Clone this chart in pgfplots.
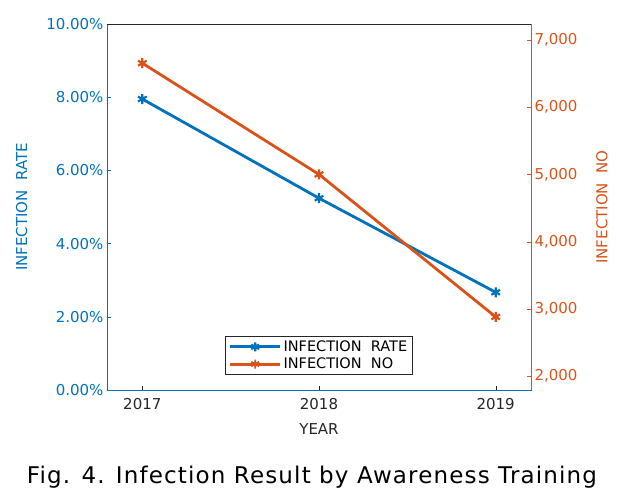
\documentclass[border=0pt]{standalone}
\usepackage{pgfplots}
\pgfplotsset{compat=1.18}
\usepackage{fontspec}
\setmainfont{DejaVu Sans}
\newfontfamily\capfont[LetterSpace=5]{DejaVu Sans}
\definecolor{mblue}{RGB}{0,114,189}
\definecolor{morange}{RGB}{217,83,25}
\definecolor{mgray}{RGB}{38,38,38}
\pgfplotstableread{
year rate
2017 7.95
2018 5.24
2019 2.67
}\ratedata
\pgfplotstableread{
year no
2017 6655
2018 5000
2019 2880
}\nodata
\begin{document}
\begin{tikzpicture}
\begin{axis}[name=ax, scale only axis, width=424pt, height=366pt,
  xmin=2016.8, xmax=2019.2, ymin=0, ymax=10,
  xtick={2017,2018,2019}, xticklabels={2017,2018,2019},
  ytick={0,2,4,6,8,10},
  yticklabels={0.00\%,2.00\%,4.00\%,6.00\%,8.00\%,10.00\%},
  tick align=inside, xtick pos=bottom, ytick pos=left,
  major tick length=4pt,
  x axis line style={draw=mgray}, y axis line style={draw=mblue},
  every y tick/.style={mblue},
  every x tick/.style={mgray},
  ticklabel style={font=\fontsize{15}{17}\selectfont},
  yticklabel style={text=mblue},
  xticklabel style={text=mgray, yshift=-5pt},
  xlabel={YEAR}, ylabel={INFECTION\ \ RATE},
  label style={font=\fontsize{15}{17}\selectfont},
  xlabel style={text=mgray, yshift=-7pt},
  ylabel style={text=mblue}, ylabel shift=12pt,
  legend style={at={(0.5,0.041)}, anchor=south, draw=mgray, line width=0.6pt,
    font=\fontsize{14.5}{16}\selectfont, text=black, inner xsep=3pt, inner ysep=2.5pt,
    row sep=1pt, /tikz/every even column/.append style={column sep=2pt}},
  legend cell align=left,
  legend image code/.code={\draw[#1, line width=3pt] (0pt,0pt) -- (1.75cm,0pt);
    \draw[#1, line width=1.8pt, mark=asterisk, mark size=4.5pt] plot coordinates {(0.875cm,0pt)};},
]
\addplot[mblue, line width=2.8pt, mark=asterisk, mark size=5pt,
  mark options={line width=2.2pt}] table[x=year, y=rate] {\ratedata};
\addlegendentry{INFECTION\ \ RATE}
\addlegendimage{morange, line width=2.8pt, mark=asterisk}
\addlegendentry{INFECTION\ \ NO}
\end{axis}
\begin{axis}[scale only axis, width=424pt, height=366pt,
  xmin=2016.8, xmax=2019.2, ymin=1792, ymax=7238,
  axis x line=none, axis y line*=right,
  ytick={2000,3000,4000,5000,6000,7000},
  yticklabels={{2,000},{3,000},{4,000},{5,000},{6,000},{7,000}},
  tick align=inside, major tick length=4pt,
  y axis line style={draw=morange},
  every y tick/.style={morange},
  ticklabel style={font=\fontsize{15}{17}\selectfont},
  yticklabel style={text=morange},
  ylabel={INFECTION\ \ NO},
  label style={font=\fontsize{15}{17}\selectfont},
  ylabel style={text=morange}, ylabel shift=12pt,
]
\addplot[morange, line width=2.8pt, mark=asterisk, mark size=5pt,
  mark options={line width=2.2pt}] table[x=year, y=no] {\nodata};
\end{axis}
\draw[mgray, line width=0.6pt] (ax.north west) -- (ax.north east);
\node[font=\capfont\fontsize{23}{26}\selectfont, text=black] at ([xshift=205pt, yshift=-87pt]ax.south west) {Fig. 4. Infection Result by Awareness Training};
\pgfresetboundingbox
\path ([xshift=-107pt, yshift=-107pt]ax.south west) rectangle ([xshift=91pt, yshift=24pt]ax.north east);
\end{tikzpicture}
\end{document}
